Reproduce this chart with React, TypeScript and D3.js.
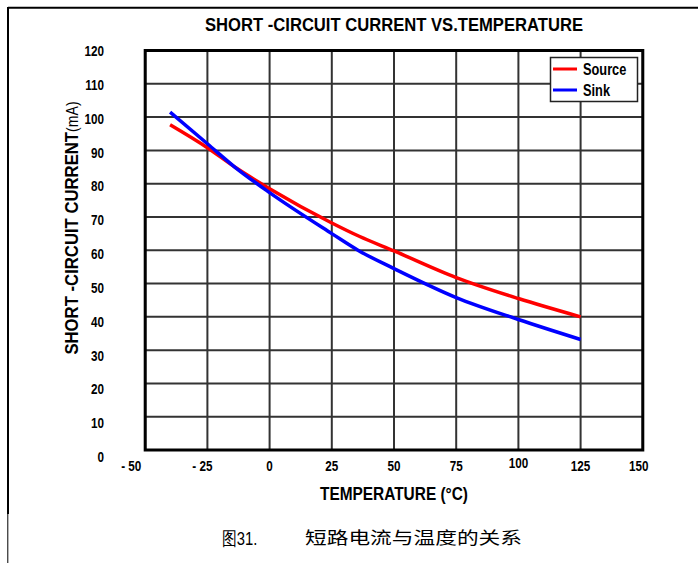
import React from "react";
import * as d3 from "d3";

const temps = [-40, -25, -14, 0, 25, 36, 50, 75, 100, 125];
const sourceVals = [97.7, 90.8, 85.0, 78.5, 68.2, 64.2, 59.8, 51.8, 45.5, 40.0];
const sinkVals = [101.5, 92.0, 85.0, 77.3, 65.0, 59.8, 54.5, 45.8, 39.2, 33.2];
const xTicks = [-50, -25, 0, 25, 50, 75, 100, 125, 150];
const xTickLabels = ["- 50", "- 25", "0", "25", "50", "75", "100", "125", "150"];
const yTicks = [0, 10, 20, 30, 40, 50, 60, 70, 80, 90, 100, 110, 120];
const seriesNames = ["Source", "Sink"];
const seriesColors = ["#ff0000", "#0000ff"];

const FONT = "'Liberation Sans', Arial, sans-serif";

function NText({ x, y, sx = 0.8, anchor = "start", size = 14, bold = true, children }: any) {
  return (
    <text transform={`translate(${x},${y}) scale(${sx},1)`} textAnchor={anchor} fontFamily={FONT}
      fontWeight={bold ? "bold" : "normal"} fontSize={size}>{children}</text>
  );
}

export default function App() {
  const W = 698, H = 563;
  const x = d3.scaleLinear().domain([-50, 150]).range([145.2, 642.8]);
  const y = d3.scaleLinear().domain([0, 120]).range([450, 50.5]);
  const yLabel = d3.scaleLinear().domain([0, 120]).range([457, 51]);
  const line = d3.line<[number, number]>()
    .x((d) => x(d[0]))
    .y((d) => y(d[1]))
    .curve(d3.curveMonotoneX);
  const series = [sourceVals, sinkVals].map((vals) =>
    temps.map((t, i) => [t, vals[i]] as [number, number])
  );

  return (
    <svg width={W} height={H} style={{ position: "absolute", left: 0, top: 0 }}>
      <rect x={0} y={0} width={W} height={H} fill="#fff" />
      {/* outer frame */}
      <line x1={8} y1={7.8} x2={698} y2={7.8} stroke="#000" strokeWidth={2} />
      <line x1={8} y1={7} x2={8} y2={514} stroke="#000" strokeWidth={2} />
      <line x1={7.8} y1={514} x2={7.8} y2={563} stroke="#000" strokeWidth={1} />

      {/* title */}
      <text x={394} y={31} textAnchor="middle" fontFamily={FONT} fontWeight="bold" fontSize={19}
        textLength={378} lengthAdjust="spacingAndGlyphs">SHORT -CIRCUIT CURRENT VS.TEMPERATURE</text>

      {/* grid */}
      {xTicks.map((t) => (
        <line key={"gx" + t} x1={x(t)} x2={x(t)} y1={y(0)} y2={y(120)} stroke="#333" strokeWidth={2} />
      ))}
      {yTicks.map((t) => (
        <line key={"gy" + t} x1={x(-50)} x2={x(150)} y1={y(t)} y2={y(t)} stroke="#333" strokeWidth={2} />
      ))}
      <rect x={x(-50)} y={y(120)} width={x(150) - x(-50)} height={y(0) - y(120)} fill="none" stroke="#000" strokeWidth={3} />

      {/* y tick labels */}
      {yTicks.map((t) => (
        <NText key={"yl" + t} x={104} y={yLabel(t) + 5} anchor="end" size={15} sx={0.78}>{t}</NText>
      ))}
      {/* x tick labels */}
      {xTicks.map((t, i) => (
        <NText key={"xl" + t} x={x(t) + (i === 0 ? -14 : i === 1 ? -5 : i === 8 ? -4 : 0)} y={t === 100 ? 468 : 471}
          anchor="middle" size={15} sx={0.78}>{xTickLabels[i]}</NText>
      ))}

      {/* curves */}
      {series.map((s, i) => (
        <path key={"s" + i} d={line(s) || ""} fill="none" stroke={seriesColors[i]} strokeWidth={3.5} />
      ))}

      {/* legend */}
      <rect x={550.5} y={57.5} width={87} height={44} fill="#fff" stroke="#222" strokeWidth={1.5} />
      {seriesNames.map((n, i) => (
        <g key={"lg" + n}>
          <line x1={553} x2={577} y1={69 + i * 21} y2={69 + i * 21} stroke={seriesColors[i]} strokeWidth={3} />
          <NText x={583} y={74.5 + i * 21} size={16} sx={0.8}>{n}</NText>
        </g>
      ))}

      {/* axis titles */}
      <text x={394} y={500} textAnchor="middle" fontFamily={FONT} fontWeight="bold" fontSize={18}
        textLength={148} lengthAdjust="spacingAndGlyphs">TEMPERATURE (°C)</text>
      <text transform="translate(78,228) rotate(-90) scale(0.88,1)" textAnchor="middle" fontFamily={FONT}>
        <tspan fontWeight="bold" fontSize={19}>SHORT -CIRCUIT CURRENT</tspan>
        <tspan fontSize={16}>(mA)</tspan>
      </text>

      {/* caption */}
      <NText x={222} y={545} size={19} bold={false} sx={0.78}>图31.</NText>
      <text x={305} y={544} fontFamily="'Noto Sans CJK SC', sans-serif" fontSize={17}
        textLength={217} lengthAdjust="spacingAndGlyphs">短路电流与温度的关系</text>
    </svg>
  );
}
